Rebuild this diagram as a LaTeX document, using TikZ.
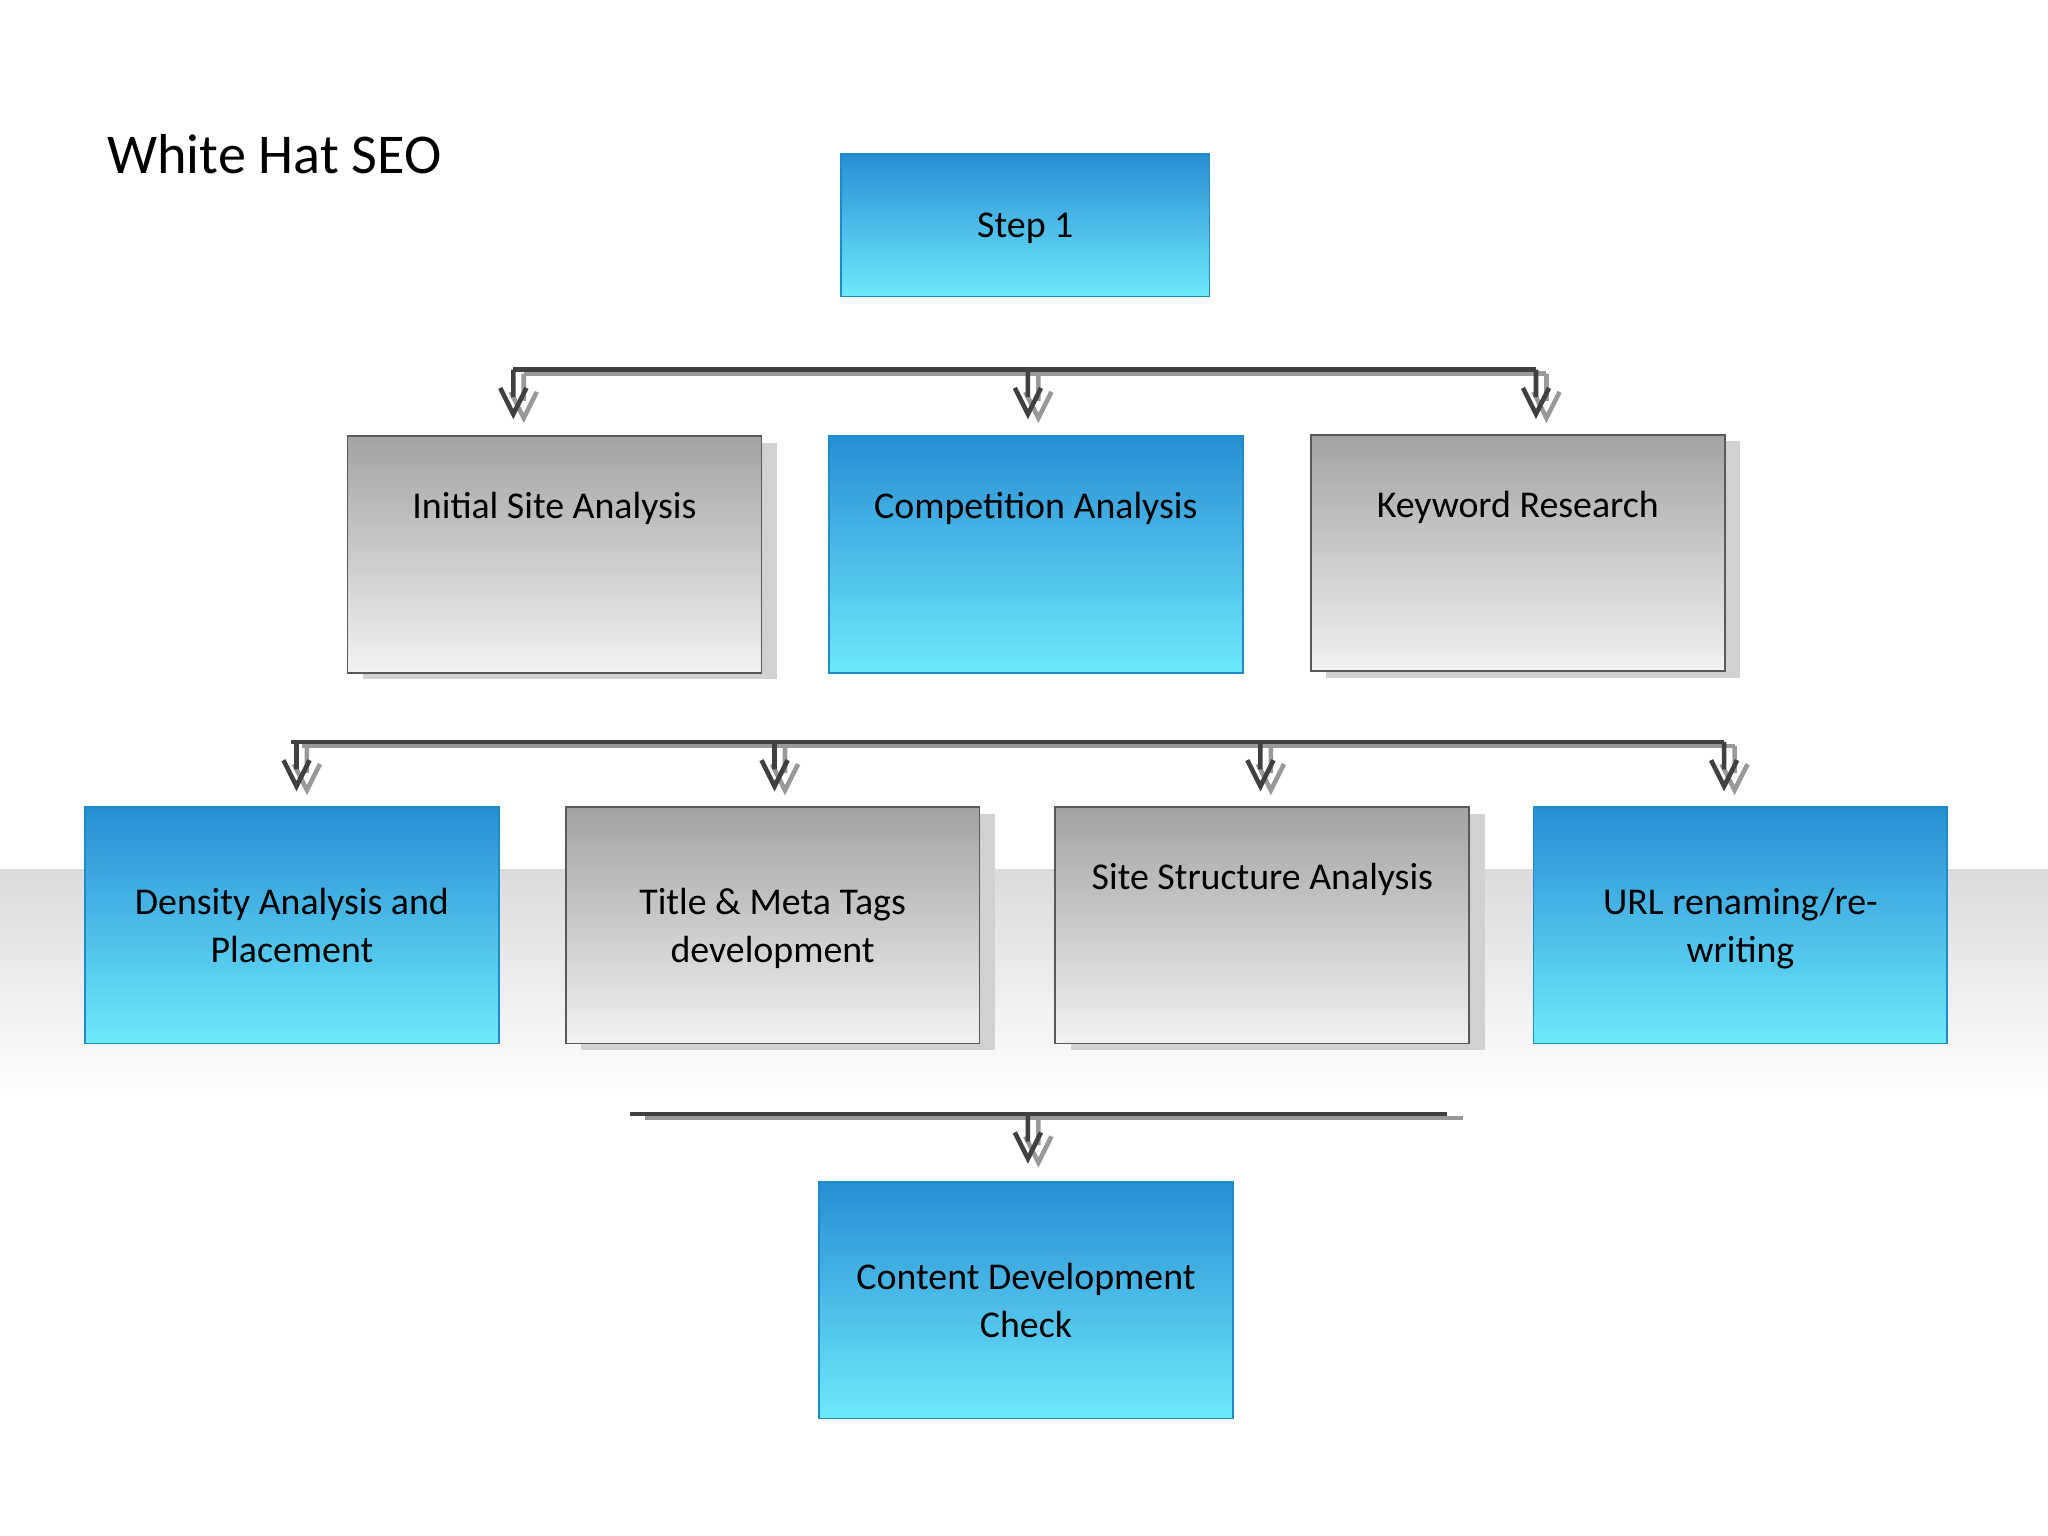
\documentclass[tikz,border=0pt]{standalone}
\usepackage{fontspec}
\setmainfont{Carlito}
\begin{document}
\begin{tikzpicture}[x=0.02cm,y=-0.02cm,
  box/.style={minimum width=6.34cm,minimum height=3.62cm,line width=0.8pt,font=\fontsize{16.5}{21}\selectfont,align=center,inner sep=0pt,text depth=0pt},
  bluebox/.style={box,draw={rgb,255:red,30;green,140;blue,200},top color={rgb,255:red,40;green,142;blue,212},bottom color={rgb,255:red,110;green,233;blue,251}},
  graybox/.style={box,draw=black!65,top color=black!36,bottom color=black!5},
  shad/.style={fill=black!18,draw=none},
  bar/.style={draw=black!75,line width=2pt},
  barsh/.style={draw=black!40,line width=2pt},
  chev/.style={draw=black!75,line width=2pt},
  chevsh/.style={draw=black!40,line width=2pt}]
\useasboundingbox (0,0) rectangle (1568,1176);
\shade[top color=black!14,bottom color=white] (0,666) rectangle (1568,840);
\node[anchor=west,font=\fontsize{24.5}{30}\selectfont] (title) at (76,118) {White Hat SEO};
% shadows
\foreach \cx/\cy in {424.5/424.5,1162/423.5,591.5/708.5,966.5/708.5}
  \fill[shad] (\cx-158.5+12,\cy-90.5+5) rectangle (\cx+158.5+12,\cy+90.5+5);
% boxes
\node[bluebox,minimum width=5.64cm,minimum height=2.18cm] (s1) at (785,172.5) {Step 1};
\node[graybox] (isa) at (424.5,424.5) {Initial Site Analysis\\[1.3em]};
\node[bluebox] (ca) at (793,424.5) {Competition Analysis\\[1.3em]};
\node[graybox] (kr) at (1162,423.5) {Keyword Research\\[1.3em]};
\node[bluebox] (da) at (223.5,708.5) {Density Analysis and\\Placement};
\node[graybox] (tm) at (591.5,708.5) {Title \& Meta Tags\\development};
\node[graybox] (ssa) at (966.5,708.5) {Site Structure Analysis\\[1.3em]};
\node[bluebox] (url) at (1332.5,708.5) {URL renaming/re-\\writing};
\node[bluebox] (cd) at (785.5,995.5) {Content Development\\Check};
% bars
\coordinate (b1l) at (393,283); \coordinate (b1r) at (1176,283);
\coordinate (b2l) at (223,568); \coordinate (b2r) at (1320,568);
\coordinate (b3l) at (482,853); \coordinate (b3r) at (1108,853);
\draw[barsh] ([shift={(8,3)}]b1l) -- ([shift={(8,3)}]b1r);
\draw[barsh] ([shift={(8,3)}]b2l) -- ([shift={(8,3)}]b2r);
\draw[barsh] ([shift={(12,3)}]b3l) -- ([shift={(12,3)}]b3r);
\draw[bar] (b1l) -- (b1r);
\draw[bar] (b2l) -- (b2r);
\draw[bar] (b3l) -- (b3r);
% drops
\foreach \x/\y in {393/283,787/283,1176/283,227/568,593/568,965/568,1320/568,787/853}{
  \draw[chevsh] (\x+8,\y+3) -- (\x+8,\y+24) (\x-2,\y+17) -- (\x+8,\y+37) -- (\x+18,\y+17);
  \draw[chev] (\x,\y) -- (\x,\y+21) (\x-10,\y+14) -- (\x,\y+34) -- (\x+10,\y+14);
}
\end{tikzpicture}
\end{document}
